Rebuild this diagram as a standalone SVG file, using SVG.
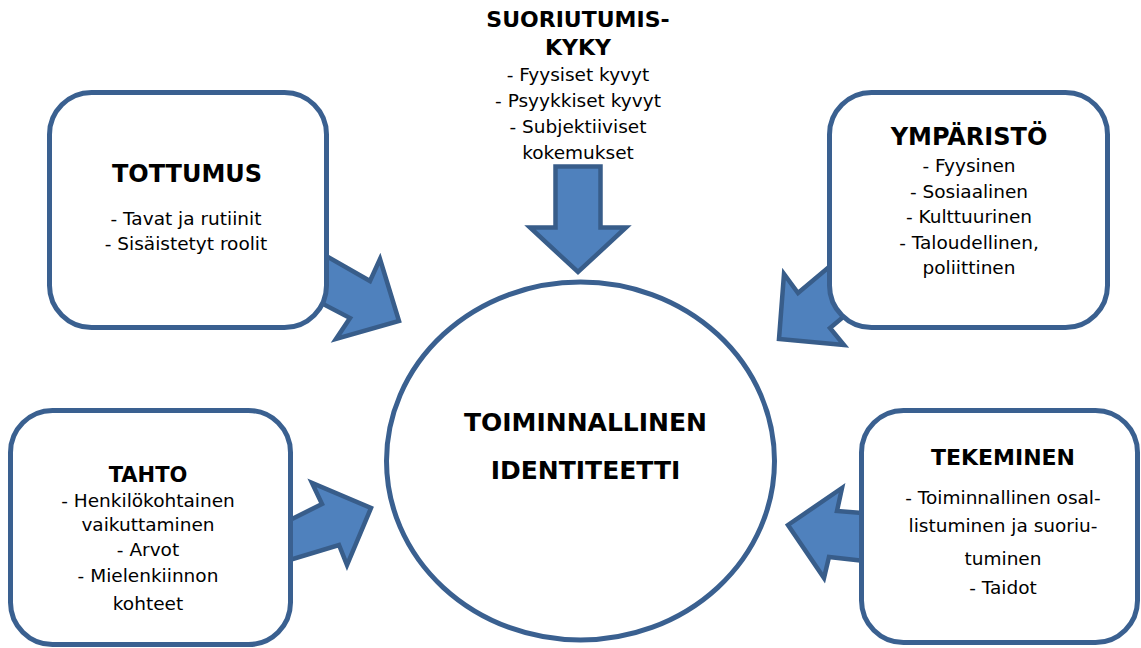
<svg xmlns="http://www.w3.org/2000/svg" width="1141" height="648" viewBox="0 0 1141 648">
<style>
.box{fill:#ffffff;stroke:#3A6090;stroke-width:5}
.arr{fill:#4F81BD;stroke:#385D8A;stroke-width:4.5;stroke-linejoin:miter}
text{font-family:"DejaVu Sans","Verdana",sans-serif;fill:#000;text-anchor:middle}
.t{font-size:18.5px}
.h{font-weight:bold}
</style>
<rect width="1141" height="648" fill="#ffffff"/>
<g id="identiteetti">
<ellipse class="box" cx="580.5" cy="461" rx="194" ry="179"/>
<text class="h" x="585.5" y="431" style="font-size:25px">TOIMINNALLINEN</text>
<text class="h" x="585.5" y="479" style="font-size:25px">IDENTITEETTI</text>
</g>
<g id="connectors">
<polygon class="arr" points="555.5,166.5 600.5,166.5 600.5,227.5 626,227.5 578,272 530,227.5 555.5,227.5"/>
<polygon class="arr" points="300,241 370,281 380,259 399,321 336,339 350,318 300,292"/>
<polygon class="arr" points="860,241 798,293 784,274 779,339 844,345 830,328 860,303"/>
<polygon class="arr" points="260,535 322,504 312,483 371,508 347,565 339,545 260,569"/>
<polygon class="arr" points="900,516 837,511 842,488 788,525 824,578 829,557 900,565"/>
</g>
<g id="tottumus">
<rect class="box" x="49.5" y="92.5" width="277" height="235" rx="42" ry="42"/>
<text class="h" x="187" y="182" style="font-size:24px">TOTTUMUS</text>
<text class="t" x="186" y="225">- Tavat ja rutiinit</text>
<text class="t" x="186" y="250">- Sisäistetyt roolit</text>
</g>
<g id="ymparisto">
<rect class="box" x="829.5" y="92.5" width="278" height="235" rx="42" ry="42"/>
<text class="h" x="969" y="145" style="font-size:24px">YMPÄRISTÖ</text>
<text class="t" x="969" y="172">- Fyysinen</text>
<text class="t" x="969" y="198">- Sosiaalinen</text>
<text class="t" x="969" y="223">- Kulttuurinen</text>
<text class="t" x="969" y="249">- Taloudellinen,</text>
<text class="t" x="969" y="274">poliittinen</text>
</g>
<g id="tahto">
<rect class="box" x="10.5" y="410.5" width="280" height="234" rx="42" ry="42"/>
<text class="h" x="148" y="482" style="font-size:21px">TAHTO</text>
<text class="t" x="148" y="507">- Henkilökohtainen</text>
<text class="t" x="148" y="531">vaikuttaminen</text>
<text class="t" x="148" y="556">- Arvot</text>
<text class="t" x="148" y="582">- Mielenkiinnon</text>
<text class="t" x="148" y="610">kohteet</text>
</g>
<g id="tekeminen">
<rect class="box" x="861.5" y="410.5" width="276" height="232" rx="42" ry="42"/>
<text class="h" x="1003" y="465" style="font-size:22px">TEKEMINEN</text>
<text class="t" x="1003" y="504">- Toiminnallinen osal-</text>
<text class="t" x="1003" y="532">listuminen ja suoriu-</text>
<text class="t" x="1003" y="565">tuminen</text>
<text class="t" x="1003" y="594">- Taidot</text>
</g>
<g id="suoriutumiskyky">
<text class="h" x="578" y="27" style="font-size:22px">SUORIUTUMIS-</text>
<text class="h" x="578" y="55" style="font-size:22px">KYKY</text>
<text class="t" x="578" y="81">- Fyysiset kyvyt</text>
<text class="t" x="578" y="107">- Psyykkiset kyvyt</text>
<text class="t" x="578" y="133">- Subjektiiviset</text>
<text class="t" x="578" y="159">kokemukset</text>
</g>
</svg>
